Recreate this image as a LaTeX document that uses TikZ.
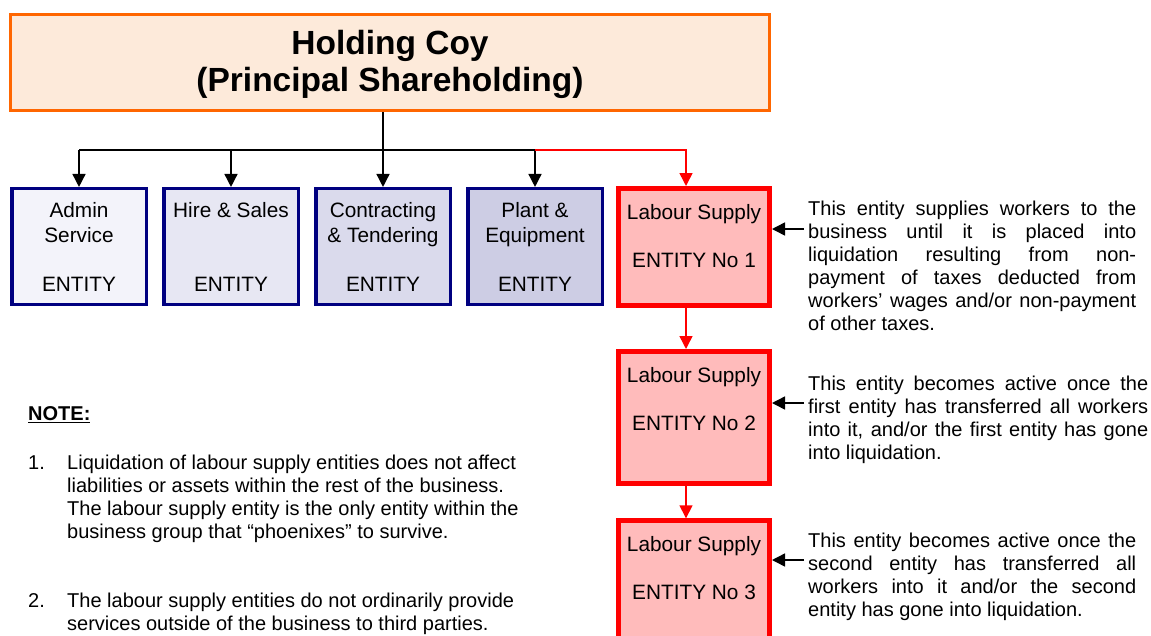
\documentclass[tikz,border=0pt]{standalone}
\usepackage{fontspec}
\setmainfont{Liberation Sans}
\usetikzlibrary{arrows.meta, positioning}

\definecolor{holdfill}{RGB}{253,234,218}
\definecolor{holdline}{RGB}{255,102,0}
\definecolor{navyline}{RGB}{0,0,128}
\definecolor{fillA}{RGB}{243,243,250}
\definecolor{fillB}{RGB}{231,231,243}
\definecolor{fillC}{RGB}{218,218,236}
\definecolor{fillD}{RGB}{205,205,228}
\definecolor{labourfill}{RGB}{255,187,187}

% box texts hang from the top of the box
\newcommand{\entitytext}[1]{\parbox[c][116pt][t]{134.5pt}{\centering\rule{0pt}{29pt}#1}}
\newcommand{\labourtext}[2]{\parbox[c][#1][t]{151pt}{\centering\rule{0pt}{30.5pt}#2}}

\tikzset{
>={Triangle[length=13pt,width=13pt]}, % solid triangle heads
every node/.style={font=\fontsize{20.8}{24.5}\selectfont},
holding/.style={draw=holdline, line width=3pt, fill=holdfill, minimum width=759pt, minimum height=96.3pt, align=center, font=\fontsize{33.5}{37}\selectfont\bfseries},
entity/.style={draw=navyline, line width=3.5pt, inner sep=0pt},
labour/.style={draw=red, line width=5pt, fill=labourfill, inner sep=0pt},
link/.style={line width=1.5pt},
redlink/.style={line width=1.5pt, red},
para/.style={inner sep=0pt, anchor=north west, font=\fontsize{20}{23}\selectfont},
}

\begin{document}
\begin{tikzpicture}[x=1pt, y=-1pt]
\useasboundingbox (0,0) rectangle (1151,635);

% holding company
\node[holding] (hold) at (390,62.35) {\rule{0pt}{28pt}Holding Coy\\(Principal Shareholding)};

% the fixed entities
\node[entity, fill=fillA] (admin) at (79,246.7) {\entitytext{Admin\\Service\\[24.5pt]ENTITY}};
\node[entity, fill=fillB, right=14pt of admin] (hire) {\entitytext{Hire \& Sales\\[49pt]ENTITY}};
\node[entity, fill=fillC, right=14pt of hire] (cont) {\entitytext{Contracting\\\& Tendering\\[24.5pt]ENTITY}};
\node[entity, fill=fillD, right=14pt of cont] (plant) {\entitytext{Plant \&\\Equipment\\[24.5pt]ENTITY}};

% labour supply chain
\node[labour] (ls1) at (694,247) {\labourtext{117pt}{Labour Supply\\[24pt]ENTITY No 1}};
\node[labour] (ls2) at (694,417.5) {\labourtext{132pt}{Labour Supply\\[24pt]ENTITY No 2}};
\node[labour] (ls3) at (694,586.8) {\labourtext{132pt}{Labour Supply\\[24pt]ENTITY No 3}};

% side notes
\node[para, text width=328pt, align=justify] (txt1) at (808,200.5) {\noindent This entity supplies workers to the\linebreak business until it is placed into\linebreak liquidation resulting from non-\linebreak payment of taxes deducted from\linebreak workers’ wages and/or non-payment\linebreak of other taxes.};
\node[para, text width=340pt, align=justify] (txt2) at (808,375.5) {\noindent This entity becomes active once the\linebreak first entity has transferred all workers\linebreak into it, and/or the first entity has gone\linebreak into liquidation.};
\node[para, text width=328pt, align=justify] (txt3) at (808,532.5) {\noindent This entity becomes active once the\linebreak second entity has transferred all\linebreak workers into it and/or the second\linebreak entity has gone into liquidation.};

% note block
\node[para, font=\fontsize{20}{23}\selectfont\bfseries] (note) at (28,406.5) {\underline{NOTE:}};
\node[para] (note1) at (28,453.1) {\begin{tabular}[t]{@{}p{39pt}@{}l@{}}
1. & Liquidation of labour supply entities does not affect\\
   & liabilities or assets within the rest of the business.\\
   & The labour supply entity is the only entity within the\\
   & business group that “phoenixes” to survive.
\end{tabular}};
\node[para] (note2) at (28,591) {\begin{tabular}[t]{@{}p{39pt}@{}l@{}}
2. & The labour supply entities do not ordinarily provide\\
   & services outside of the business to third parties.
\end{tabular}};

% connectors
\coordinate (bus) at (0,150);
\coordinate (drop) at (686,150);
\draw[link, ->] (hold.south -| cont.north) -- (cont.north);
\draw[link] (admin.north |- bus) -- (plant.north |- bus);
\draw[link, ->] (admin.north |- bus) -- (admin.north);
\draw[link, ->] (hire.north |- bus) -- (hire.north);
\draw[link, ->] (plant.north |- bus) -- (plant.north);
\draw[redlink, ->] (plant.north |- bus) -- (drop) -- (drop |- ls1.north);
\draw[redlink, ->] (drop |- ls1.south) -- (drop |- ls2.north);
\draw[redlink, ->] (drop |- ls2.south) -- (drop |- ls3.north);

\coordinate (c1) at (804,229);
\coordinate (c2) at (804,403);
\coordinate (c3) at (804,560);
\draw[link, ->] (c1) -- (c1 -| ls1.east);
\draw[link, ->] (c2) -- (c2 -| ls2.east);
\draw[link, ->] (c3) -- (c3 -| ls3.east);
\end{tikzpicture}
\end{document}
